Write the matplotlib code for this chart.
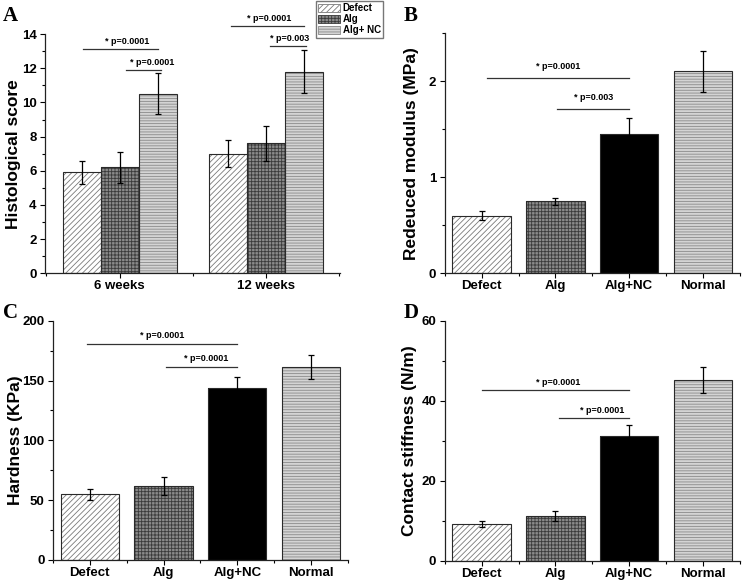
import matplotlib.pyplot as plt
import numpy as np
from matplotlib.patches import Patch
from matplotlib.ticker import MultipleLocator

plt.rcParams["font.family"] = ["Liberation Sans", "DejaVu Sans"]
plt.rcParams["font.weight"] = "bold"
plt.rcParams["hatch.linewidth"] = 0.6

# panel A: histological score
weeks = ["6 weeks", "12 weeks"]
hist_groups = ["Defect", "Alg", "Alg+ NC"]
hist_mean = [[5.9, 7.0], [6.2, 7.6], [10.5, 11.8]]
hist_err = [[0.65, 0.78], [0.9, 1.0], [1.2, 1.26]]

# panels B-D: nanoindentation
groups = ["Defect", "Alg", "Alg+NC", "Normal"]
modulus = [0.6, 0.75, 1.45, 2.1]
modulus_err = [0.05, 0.035, 0.17, 0.21]
hardness = [55, 62, 144, 161]
hardness_err = [4.5, 7.4, 9.2, 10]
stiffness = [9.1, 11.1, 31.1, 45.1]
stiffness_err = [0.8, 1.3, 2.9, 3.3]

# fill, hatch colour, hatch
styles = {
    "Defect": ("white", "#7a7a7a", "//////"),
    "Alg": ("#8a8a8a", "#3a3a3a", "+++++"),
    "Alg+ NC": ("#d4d4d4", "#8a8a8a", "------"),
    "Alg+NC": ("black", "black", None),
    "Normal": ("#d4d4d4", "#8a8a8a", "------"),
}
EDGE = "#2a2a2a"


def draw_bar(ax, x, h, w, key, err):
    face, hcol, hatch = styles[key]
    ax.bar(x, h, w, color=face, edgecolor=hcol, hatch=hatch, linewidth=0, zorder=2)
    ax.bar(x, h, w, fill=False, edgecolor=EDGE, linewidth=0.8, zorder=3)
    ax.errorbar(x, h, yerr=err, fmt="none", ecolor="black", elinewidth=0.9,
                capsize=2.5, capthick=0.9, zorder=4)


def style_axes(ax):
    for s in ("top", "right"):
        ax.spines[s].set_visible(False)
    for s in ("left", "bottom"):
        ax.spines[s].set_linewidth(0.9)
        ax.spines[s].set_color("#222222")
    ax.tick_params(which="major", direction="out", length=3.5, width=0.8,
                   labelsize=9.5, pad=2.5)
    ax.tick_params(axis="x", which="major", pad=1.5)
    ax.tick_params(which="minor", direction="out", length=2, width=0.8)


def sig(ax, x0, x1, y, ty, tx, text):
    ax.plot([x0, x1], [y, y], color="#333333", lw=0.9, clip_on=False)
    ax.text(tx, ty, text, ha="center", va="bottom", fontsize=6.5,
            fontweight="bold", clip_on=False)


def letter(x, y, s):
    fig.text(x, y, s, fontsize=15, fontweight="bold", family="Liberation Serif",
             ha="left", va="center")


fig = plt.figure(figsize=(7.43, 5.8), dpi=100)

# ---- A
axA = fig.add_axes([0.0606, 0.529, 0.397, 0.412])
bw = 0.26
xg = np.arange(len(weeks))
for i, g in enumerate(hist_groups):
    draw_bar(axA, xg + (i - 1) * bw, hist_mean[i], bw, g, hist_err[i])
axA.set_xlim(-0.51, 1.505)
axA.set_ylim(0, 14)
axA.set_xticks(xg)
axA.set_xticklabels(weeks)
axA.xaxis.set_minor_locator(MultipleLocator(0.5))
axA.yaxis.set_major_locator(MultipleLocator(2))
axA.yaxis.set_minor_locator(MultipleLocator(1))
axA.set_ylabel("Histological score", fontsize=12.5, fontweight="bold")
axA.yaxis.set_label_coords(-0.08, 0.5)
style_axes(axA)
sig(axA, -0.25, 0.26, 13.12, 13.3, 0.05, "* p=0.0001")
sig(axA, 0.04, 0.28, 11.93, 12.1, 0.22, "* p=0.0001")
sig(axA, 0.76, 1.26, 14.5, 14.68, 1.02, "* p=0.0001")
sig(axA, 1.03, 1.27, 13.3, 13.48, 1.16, "* p=0.003")

handles = [Patch(facecolor=styles[g][0], edgecolor=styles[g][1], hatch=styles[g][2],
                 linewidth=0.6) for g in hist_groups]
fig.legend(handles, hist_groups, loc="upper left", bbox_to_anchor=(0.424, 1.0),
           fontsize=7, frameon=True, fancybox=False, edgecolor="#555555",
           handlelength=2.2, handleheight=1.0, handletextpad=0.3,
           labelspacing=0.1, borderpad=0.25, borderaxespad=0.1)

xs = np.arange(len(groups))


def panel(rect, vals, errs, ylim, major, minor, ylabel, lab_x):
    ax = fig.add_axes(rect)
    for i, g in enumerate(groups):
        draw_bar(ax, xs[i], [vals[i]], 0.79, g, [errs[i]])
    ax.set_xlim(-0.5, 3.5)
    ax.set_ylim(*ylim)
    ax.set_xticks(xs)
    ax.set_xticklabels(groups)
    ax.xaxis.set_minor_locator(MultipleLocator(0.5))
    ax.yaxis.set_major_locator(MultipleLocator(major))
    ax.yaxis.set_minor_locator(MultipleLocator(minor))
    ax.set_ylabel(ylabel, fontsize=12.5, fontweight="bold")
    ax.yaxis.set_label_coords(lab_x, 0.5)
    style_axes(ax)
    return ax


# ---- B
axB = panel([0.5985, 0.529, 0.3974, 0.414], modulus, modulus_err, (0, 2.5), 1, 0.5,
            "Redeuced modulus (MPa)", -0.087)
axB.set_yticks([0, 1, 2])
sig(axB, 0.07, 2.0, 2.03, 2.1, 1.04, "* p=0.0001")
sig(axB, 1.02, 2.0, 1.707, 1.78, 1.52, "* p=0.003")

# ---- C
axC = panel([0.0713, 0.0345, 0.397, 0.4126], hardness, hardness_err, (0, 200), 50, 25,
            "Hardness (KPa)", -0.1)
sig(axC, -0.04, 2.0, 180.5, 183.5, 0.98, "* p=0.0001")
sig(axC, 1.03, 2.0, 161.6, 164.5, 1.58, "* p=0.0001")

# ---- D
axD = panel([0.5985, 0.0333, 0.3974, 0.4138], stiffness, stiffness_err, (0, 60), 20, 10,
            "Contact stiffness (N/m)", -0.094)
sig(axD, 0.0, 2.0, 42.7, 43.5, 1.04, "* p=0.0001")
sig(axD, 1.05, 2.0, 35.6, 36.4, 1.63, "* p=0.0001")

letter(0.004, 0.972, "A")
letter(0.543, 0.972, "B")
letter(0.004, 0.46, "C")
letter(0.543, 0.46, "D")

fig.savefig("out.png", dpi=100)
